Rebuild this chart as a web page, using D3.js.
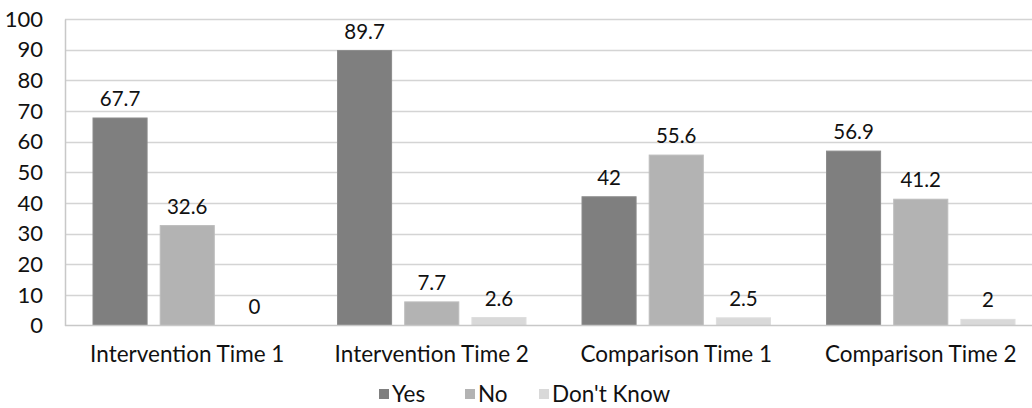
<!DOCTYPE html>
<html>
<head>
<meta charset="utf-8">
<script src="https://cdn.jsdelivr.net/npm/d3@7/dist/d3.min.js"></script>
<style>
  html, body { margin: 0; padding: 0; background: #fff; }
  svg { display: block; }
  text { font-family: Lato, "Open Sans", sans-serif; fill: #111; }
</style>
</head>
<body>
<svg id="chart" width="1032" height="408"></svg>
<script>
// Survey responses by group and time point (percent)
const categories = ["Intervention Time 1", "Intervention Time 2", "Comparison Time 1", "Comparison Time 2"];
const seriesNames = ["Yes", "No", "Don't Know"];
const yesValues = [67.7, 89.7, 42, 56.9];
const noValues = [32.6, 7.7, 55.6, 41.2];
const dontKnowValues = [0, 2.6, 2.5, 2];
const yTicks = [0, 10, 20, 30, 40, 50, 60, 70, 80, 90, 100];
const seriesColors = ["#7f7f7f", "#b3b3b3", "#d9d9d9"];
const seriesStrokes = ["#8c8c8c", "#bdbdbd", "#dedede"];

const seriesValues = [yesValues, noValues, dontKnowValues];
const rows = categories.map((c, i) => ({
  category: c,
  values: seriesNames.map((s, j) => ({ series: s, value: seriesValues[j][i], idx: j }))
}));

const svg = d3.select("#chart");
const margin = { left: 65, top: 19, plotRight: 1043, plotBottom: 325.5 };

const x0 = d3.scaleBand()
  .domain(categories)
  .range([margin.left, margin.plotRight])
  .paddingInner(0)
  .paddingOuter(0);

const x1 = d3.scaleBand()
  .domain(seriesNames)
  .range([28, x0.bandwidth() - 28])
  .paddingInner(0.195)
  .paddingOuter(0);

const y = d3.scaleLinear()
  .domain([0, 100])
  .range([margin.plotBottom, margin.top]);

// Horizontal gridlines
svg.append("g")
  .selectAll("line")
  .data(yTicks.filter(t => t > 0))
  .join("line")
  .attr("x1", margin.left)
  .attr("x2", margin.plotRight)
  .attr("y1", d => Math.round(y(d)) + 0.5)
  .attr("y2", d => Math.round(y(d)) + 0.5)
  .attr("stroke", "#d4d4d4")
  .attr("stroke-width", 1.5);

// Y axis labels via d3 axis
const yAxis = svg.append("g")
  .attr("transform", `translate(${margin.left},0)`)
  .call(d3.axisLeft(y).tickValues(yTicks).tickSize(0).tickPadding(22));
yAxis.select(".domain").attr("stroke", "#c8c8c8").attr("stroke-width", 1.5);
yAxis.selectAll("text")
  .style("font-family", "Lato, sans-serif")
  .attr("font-size", 22)
  .attr("fill", "#111")
  .attr("dy", "0.33em");

// Bars
const groups = svg.append("g")
  .selectAll("g")
  .data(rows)
  .join("g")
  .attr("transform", d => `translate(${x0(d.category)},0)`);

groups.selectAll("rect")
  .data(d => d.values)
  .join("rect")
  .attr("x", d => x1(d.series))
  .attr("width", x1.bandwidth())
  .attr("y", d => y(d.value))
  .attr("height", d => y(0) - y(d.value))
  .attr("fill", d => seriesColors[d.idx])
  .attr("stroke", d => seriesStrokes[d.idx])
  .attr("stroke-width", 1);

// Value labels
groups.selectAll("text.value")
  .data(d => d.values)
  .join("text")
  .attr("class", "value")
  .attr("x", d => x1(d.series) + x1.bandwidth() / 2)
  .attr("y", d => y(d.value) - 12)
  .attr("text-anchor", "middle")
  .attr("font-size", 20.5)
  .text(d => d.value);

// X axis baseline
svg.append("line")
  .attr("x1", margin.left)
  .attr("x2", margin.plotRight)
  .attr("y1", y(0))
  .attr("y2", y(0))
  .attr("stroke", "#c8c8c8")
  .attr("stroke-width", 1.5);

// Category labels
svg.append("g")
  .selectAll("text")
  .data(categories)
  .join("text")
  .attr("x", d => x0(d) + x0.bandwidth() / 2)
  .attr("y", 361.5)
  .attr("text-anchor", "middle")
  .attr("font-size", 22.5)
  .text(d => d);

// Legend
const legendX = [379, 465, 539];
const legend = svg.append("g")
  .selectAll("g")
  .data(seriesNames)
  .join("g")
  .attr("transform", (d, i) => `translate(${legendX[i]},389)`);
legend.append("rect")
  .attr("width", 10)
  .attr("height", 10)
  .attr("fill", (d, i) => seriesColors[i]);
legend.append("text")
  .attr("x", 13)
  .attr("y", 12.5)
  .attr("font-size", 22.5)
  .text(d => d);
</script>
</body>
</html>
